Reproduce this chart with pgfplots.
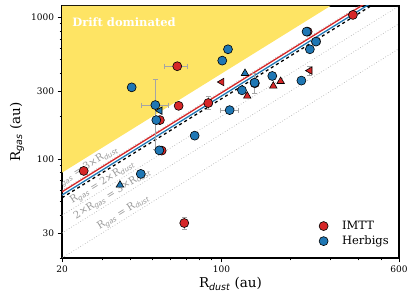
\documentclass[border=0pt]{standalone}
\usepackage{fontspec}
\setmainfont{DejaVu Serif}
\setsansfont{DejaVu Sans}
\usepackage{pgfplots}
\pgfplotsset{compat=1.18}
\definecolor{tred}{HTML}{D62728}
\definecolor{tblue}{HTML}{1F77B4}
\definecolor{drift}{RGB}{254,228,100}
\definecolor{errc}{RGB}{165,165,165}
\definecolor{guide}{RGB}{180,180,180}
\newcommand{\sub}[1]{\textsubscript{\sffamily\itshape #1}}
\begin{document}
\begin{tikzpicture}
\begin{axis}[name=ax,
  width=337pt, height=252pt, scale only axis,
  xmode=log, ymode=log,
  xmin=20, xmax=600, ymin=20, ymax=1200,
  xtick={20,100,600}, xticklabels={20,100,600},
  minor xtick={30,40,50,60,70,80,90,200,300,400,500},
  ytick={30,100,300,1000}, yticklabels={30,100,300,1000},
  minor ytick={20,40,50,60,70,80,90,200,400,500,600,700,800,900},
  tick pos=left, tick align=outside,
  major tick length=4.5pt, minor tick length=2.5pt,
  every tick/.style={black, line width=0.8pt},
  axis line style={line width=1.1pt},
  ticklabel style={font=\fontsize{9}{10}\selectfont},
  xlabel={R\sub{dust} (au)}, ylabel={R\sub{gas} (au)},
  label style={font=\fontsize{13.5}{15}\selectfont},
  xlabel style={yshift=2pt},
  ylabel style={yshift=0pt},
  legend style={at={(0.985,0.03)}, anchor=south east, draw=none, fill=none,
    font=\fontsize{11.5}{13}\selectfont, row sep=1pt},
  legend cell align=left,
  clip=true,
]
% drift dominated region
\addplot[fill=drift, draw=none, forget plot] coordinates {(20,80) (300,1200) (20,1200) (20,80)};
% guide lines
\addplot[guide, dotted, line width=0.7pt, forget plot] coordinates {(20,20) (600,600)};
\addplot[guide, dotted, line width=0.7pt, forget plot] coordinates {(20,30) (600,900)};
\addplot[guide, dotted, line width=0.7pt, forget plot] coordinates {(20,40) (600,1200)};
\addplot[guide, dotted, line width=0.7pt, forget plot] coordinates {(20,60) (600,1800)};
% fits
\addplot[black, dashed, line width=1.3pt, forget plot] coordinates {(20,53.2) (600,1596)};
\addplot[tblue, line width=1.3pt, forget plot] coordinates {(20,55.6) (600,1668)};
\addplot[tred, line width=1.3pt, forget plot] coordinates {(20,58.6) (600,1758)};
% labels of guide lines
\node[guide!85!black, rotate=31.8, anchor=south, inner sep=1pt, font=\fontsize{10}{11}\selectfont] at (axis cs:26.3,78.9) {R\sub{gas} = 3×R\sub{dust}};
\node[guide!85!black, rotate=31.8, anchor=south, inner sep=1pt, font=\fontsize{10}{11}\selectfont] at (axis cs:31.1,62.2) {R\sub{gas} = 2×R\sub{dust}};
\node[guide!85!black, rotate=31.8, anchor=south, inner sep=1pt, font=\fontsize{10}{11}\selectfont] at (axis cs:34.4,51.6) {2×R\sub{gas} = 3×R\sub{dust}};
\node[guide!85!black, rotate=31.8, anchor=south, inner sep=1pt, font=\fontsize{10}{11}\selectfont] at (axis cs:38.4,38.4) {R\sub{gas} = R\sub{dust}};
\node[white, anchor=west, inner sep=0pt, font=\bfseries\fontsize{11.5}{13}\selectfont] at (rel axis cs:0.03,0.934) {Drift dominated};
% error bars
\addplot[errc, line width=0.8pt, mark=|, mark size=2.5pt, forget plot] coordinates {(56,451) (71,451)};
\addplot[errc, line width=0.8pt, mark=-, mark size=2.5pt, forget plot] coordinates {(87.5,222) (87.5,275)};
\addplot[errc, line width=0.8pt, mark=-, mark size=2.5pt, forget plot] coordinates {(68.7,31.9) (68.7,38.8)};
\addplot[errc, line width=0.8pt, mark=-, mark size=2.5pt, forget plot] coordinates {(140,290) (140,400)};
\addplot[errc, line width=0.8pt, mark=-, mark size=2.5pt, forget plot] coordinates {(244,387) (244,452)};
\addplot[errc, line width=0.8pt, mark=|, mark size=2.5pt, forget plot] coordinates {(44.6,240) (58.4,240)};
\addplot[errc, line width=0.8pt, mark=-, mark size=2.5pt, forget plot] coordinates {(51.3,116) (51.3,367)};
\addplot[errc, line width=0.8pt, mark=|, mark size=2.5pt, forget plot] coordinates {(98.5,221) (118.4,221)};
\addplot[errc, line width=0.8pt, mark=|, mark size=2.5pt, forget plot] coordinates {(248,673) (272,673)};
% IMTT circles
\addplot[only marks, mark=*, mark size=4.5pt, mark options={fill=tred, draw=black, line width=0.6pt}] coordinates {
(377,1038) (64,451) (64.9,237) (87.5,248) (53.7,188) (54.7,114.5) (24.9,82.3) (68.7,35.3) (238.6,791) (140,342)
};
\addlegendentry{\hspace{12pt}IMTT}
% Herbig circles
\addplot[only marks, mark=*, mark size=4.5pt, mark options={fill=tblue, draw=black, line width=0.6pt}] coordinates {
(40.4,320) (51.3,240) (51.8,188) (53.4,115) (44.3,78.4) (76.3,146) (106.8,594) (100.8,494) (236,791) (259.6,673) (244,594) (167,385) (139.7,345) (123,305) (224,357) (108.6,221)
};
\addlegendentry{\hspace{12pt}Herbigs}
% triangles
\addplot[only marks, forget plot, mark=triangle*, mark size=4.3pt, mark options={fill=tred, draw=black, line width=0.6pt}] coordinates {(168.7,327) (181.7,353) (129.7,278)};
\addplot[only marks, forget plot, mark=triangle*, mark size=4.3pt, mark options={fill=tred, draw=black, line width=0.6pt, rotate=90}] coordinates {(100.2,349) (244,420)};
\addplot[only marks, forget plot, mark=triangle*, mark size=4.3pt, mark options={fill=tblue, draw=black, line width=0.6pt}] coordinates {(126.8,402) (35.9,65.5)};
\addplot[only marks, forget plot, mark=triangle*, mark size=4.3pt, mark options={fill=tblue, draw=black, line width=0.6pt, rotate=90}] coordinates {(53.7,219)};
\end{axis}
\path ([xshift=-62pt,yshift=-45pt]ax.south west) rectangle ([xshift=16pt,yshift=6pt]ax.north east);
\end{tikzpicture}
\end{document}
